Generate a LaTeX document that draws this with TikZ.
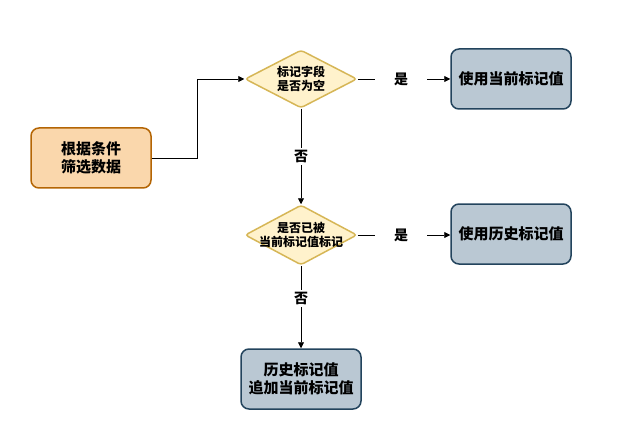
\documentclass[tikz,border=0pt]{standalone}
\usepackage{fontspec}
\newfontfamily\cjk{Noto Sans CJK SC}
\usetikzlibrary{shapes.geometric,arrows.meta}
\definecolor{orfill}{HTML}{FAD7AC}
\definecolor{ordraw}{HTML}{B46504}
\definecolor{yfill}{HTML}{FFF2CC}
\definecolor{ydraw}{HTML}{D6B656}
\definecolor{bfill}{HTML}{BAC8D3}
\definecolor{bdraw}{HTML}{23445D}
\tikzset{
  box/.style={rounded corners=8pt, line width=1.5pt, minimum width=120pt, minimum height=60pt, align=center, font=\cjk\bfseries\fontsize{15}{18}\selectfont, inner sep=0pt},
  orbox/.style={box, fill=orfill, draw=ordraw},
  blbox/.style={box, fill=bfill, draw=bdraw},
  dec/.style={diamond, aspect=1.93, fill=yfill, draw=ydraw, line width=1.5pt, minimum width=112pt, minimum height=58pt, inner sep=0pt, rounded corners=3pt},
  dectext/.style={align=center, font=\cjk\bfseries\fontsize{12}{14.5}\selectfont, inner sep=0pt},
  conn/.style={-{Triangle[length=6pt,width=6pt]}, line width=0.8pt},
  lbl/.style={fill=white, font=\cjk\bfseries\fontsize{14}{16}\selectfont, inner ysep=2pt, inner xsep=2pt},
  hlbl/.style={lbl, inner xsep=19pt}
}
\begin{document}
\begin{tikzpicture}[x=1pt,y=-1pt]
\useasboundingbox (0,0) rectangle (617,446);
\node[orbox] (a) at (91,158) {根据条件\\筛选数据};
\node[dec] (d1) at (301,79) {};
\node[dectext] (t1) at (d1.center) {标记字段\\是否为空};
\node[blbox] (b1) at (511,79) {使用当前标记值};
\node[dec, minimum height=60pt] (d2) at (301,235) {};
\node[dectext] (t2) at (d2.center) {是否已被\\当前标记值标记};
\node[blbox] (b2) at (511,234) {使用历史标记值};
\node[blbox] (b3) at (301,379) {历史标记值\\追加当前标记值};
\coordinate (c1) at (197,158);
\coordinate (c2) at (197,79);
\draw[conn] (a.east) -- (c1) -- (c2) -- (d1.west);
\draw[conn] (d1.east) -- node[hlbl, pos=0.47] {是} (b1.west);
\draw[conn] (d1.south) -- node[lbl] {否} (d2.north);
\draw[conn] (d2.east) -- node[hlbl, pos=0.47] {是} (b2.west |- d2.east);
\draw[conn] (d2.south) -- node[lbl, pos=0.4] {否} (b3.north);
\end{tikzpicture}
\end{document}
